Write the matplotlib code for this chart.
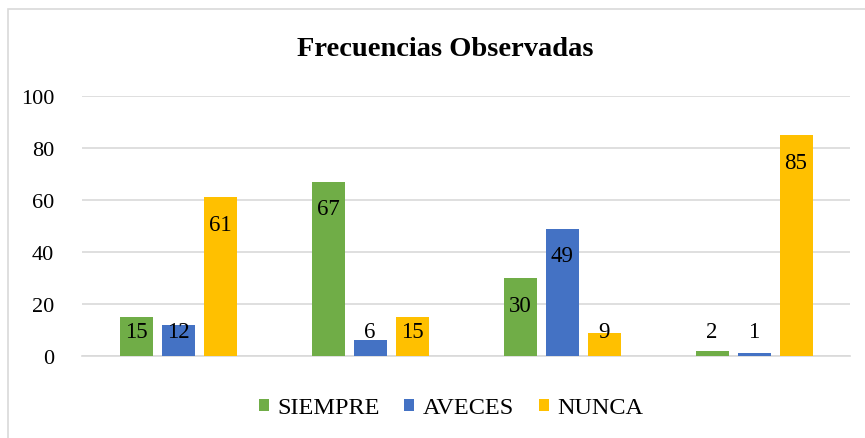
import matplotlib
matplotlib.use("Agg")
import matplotlib.pyplot as plt
import numpy as np
from matplotlib.patches import Rectangle

categories = ["1", "2", "3", "4"]
series_names = ["SIEMPRE", "AVECES", "NUNCA"]
siempre = [15, 67, 30, 2]
aveces = [12, 6, 49, 1]
nunca = [61, 15, 9, 85]
colors = ["#70AD47", "#4472C4", "#FFC000"]
yticks = [0, 20, 40, 60, 80, 100]

plt.rcParams['font.family'] = ['Liberation Serif', 'DejaVu Serif']

W, H = 865, 439
fig = plt.figure(figsize=(W / 100, H / 100), dpi=100)
# plot area in pixels: left 82, right 850, top 97 (y=100), bottom 357 (y=0)
ax = fig.add_axes([82 / W, 1 - 357 / H, (850 - 82) / W, (357 - 97) / H])

# outer chart border
fig.patches.append(Rectangle((8 / W, -0.05), 1.2, 1 - 10 / H + 0.05,
                             transform=fig.transFigure, fill=False,
                             edgecolor="#D9D9D9", linewidth=1.2))

x = np.arange(len(categories))
bw = 33 / 192
off = 42 / 192
data = [siempre, aveces, nunca]
for i, (vals, c, name) in enumerate(zip(data, colors, series_names)):
    pos = x + (i - 1) * off
    ax.bar(pos, vals, width=bw, color=c, label=name, zorder=3)
    for p, v in zip(pos, vals):
        ly = max(v - 10.4, 9.6)
        ax.text(p, ly, str(v), ha="center", va="center", fontsize=16.5,
                color="black", zorder=4)

ax.set_xlim(-0.5, len(categories) - 0.5)
ax.set_ylim(0, 100)
ax.set_yticks(yticks)
ax.set_yticklabels([str(t) for t in yticks], fontsize=16)
ax.set_xticks([])
ax.tick_params(axis="y", length=0, pad=20)
ax.grid(axis="y", color="#D9D9D9", linewidth=1.2, zorder=0)
for s in ["top", "right", "left"]:
    ax.spines[s].set_visible(False)
ax.spines["bottom"].set_color("#D9D9D9")
ax.spines["bottom"].set_linewidth(1.2)

fig.text(445 / W, 1 - 50 / H, "Frecuencias Observadas", ha="center",
         va="center", fontsize=20.5, fontweight="bold")

leg = fig.legend(loc="center", bbox_to_anchor=(451 / W, 1 - 409 / H),
                 ncol=3, frameon=False, fontsize=17.5, handlelength=0.42,
                 handleheight=0.42, handletextpad=0.35, columnspacing=1.0)

fig.savefig("out.png", dpi=100)
